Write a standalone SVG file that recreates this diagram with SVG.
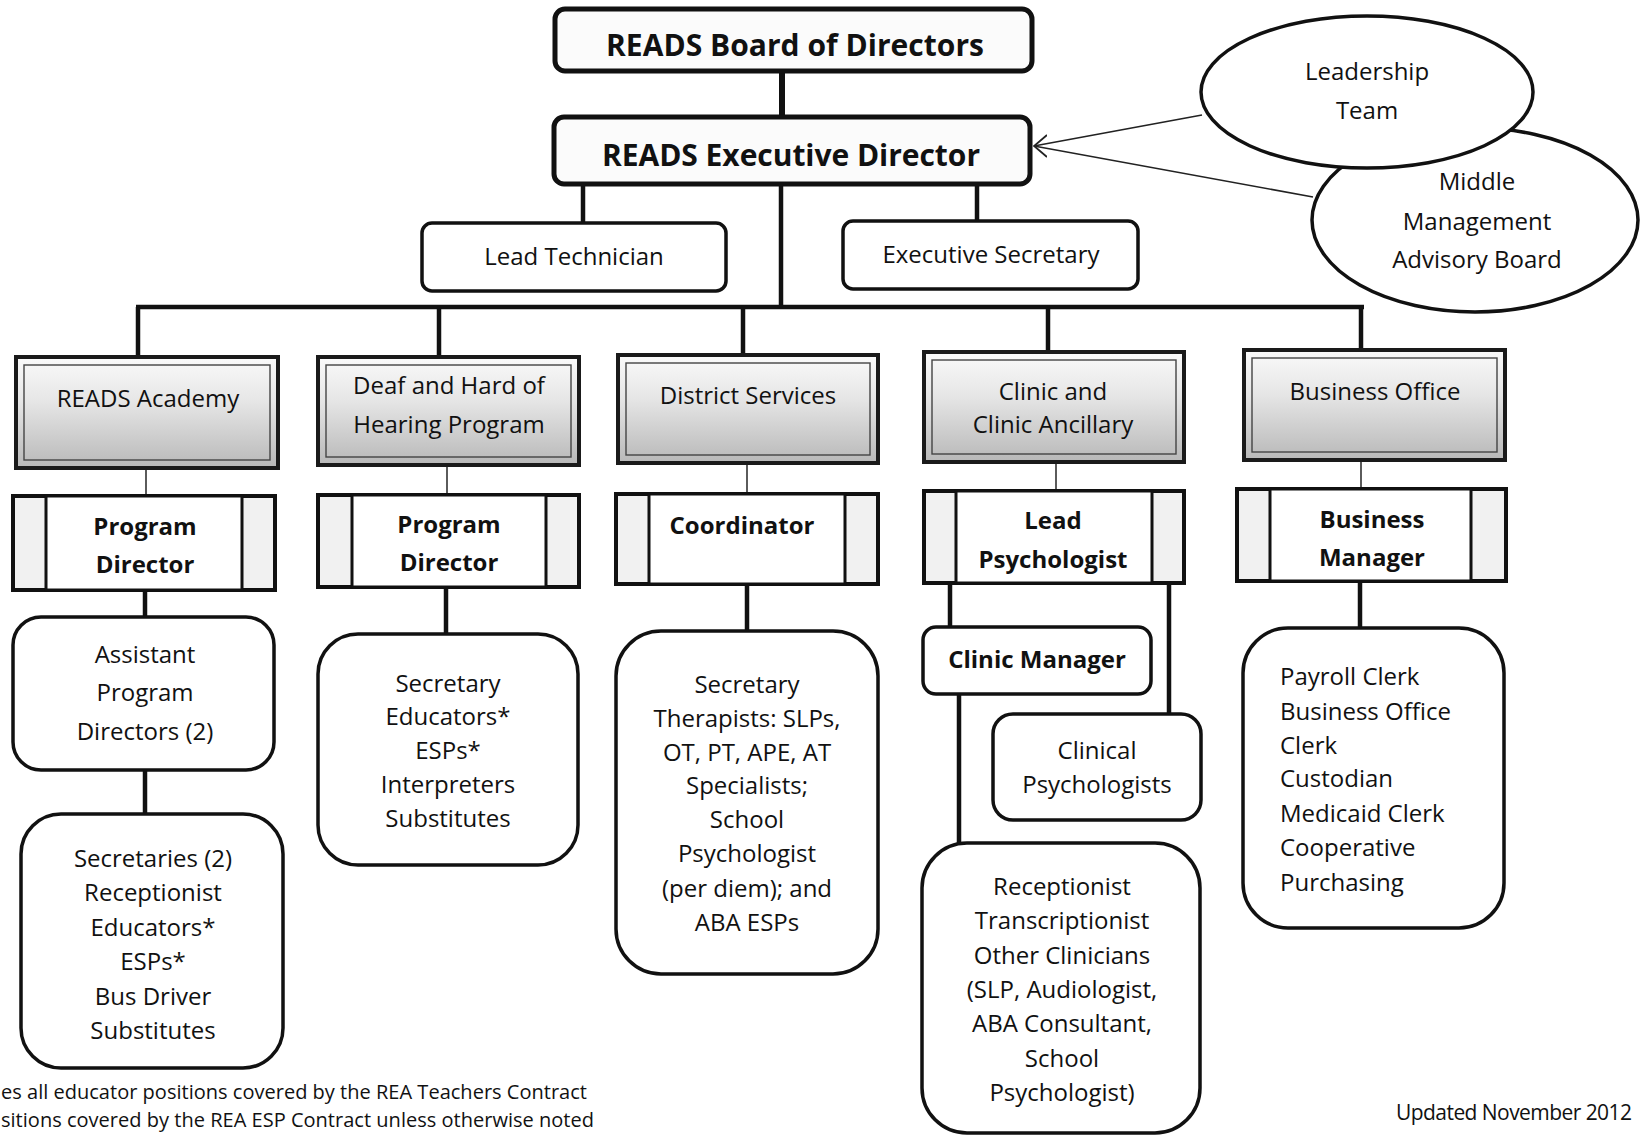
<svg xmlns="http://www.w3.org/2000/svg" width="1642" height="1135" viewBox="0 0 1642 1135">
<style>
.t{font-family:"Open Sans","Liberation Sans",sans-serif;font-size:24px;fill:#111;text-anchor:middle}
.b{font-weight:bold}
.l{text-anchor:start}
.rbox{fill:#fff;stroke:#111;stroke-width:3.5}
.top{fill:#fbfbfb;stroke:#111;stroke-width:5}
.dept{fill:url(#deptGrad);stroke:#1a1a1a;stroke-width:4}
.deptIn{fill:none;stroke:#444;stroke-width:1.4}
.dir{fill:#f1f1f1;stroke:#111;stroke-width:4}
.dirIn{fill:#fff;stroke:#111;stroke-width:3}
.ell{fill:#fff;stroke:#111;stroke-width:3.5}
.thick{stroke:#111;stroke-width:4.5;fill:none}
.thin{stroke:#333;stroke-width:1.6;fill:none}
.arr{stroke:#222;stroke-width:1.6;fill:none}
</style>
<defs>
<linearGradient id="deptGrad" x1="0" y1="0" x2="0" y2="1">
<stop offset="0" stop-color="#fafafa"/>
<stop offset="0.4" stop-color="#e6e6e6"/>
<stop offset="1" stop-color="#b8b8b8"/>
</linearGradient>
<marker id="ah" viewBox="0 0 14 26" refX="1" refY="13" markerWidth="14" markerHeight="26" markerUnits="userSpaceOnUse" orient="0">
<path d="M14,2 L1,13 L14,24" fill="none" stroke="#222" stroke-width="1.8"/>
</marker>
</defs>
<rect width="1642" height="1135" fill="#fff"/>

<g id="connectors">
<line class="thick" x1="782" y1="71" x2="782" y2="117" style="stroke-width:6"/>
<line class="thick" x1="583" y1="184" x2="583" y2="223"/>
<line class="thick" x1="781" y1="184" x2="781" y2="307"/>
<line class="thick" x1="977" y1="184" x2="977" y2="221"/>
<line class="thick" x1="136" y1="307" x2="1364" y2="307"/>
<line class="thick" x1="138" y1="307" x2="138" y2="357"/>
<line class="thick" x1="439" y1="307" x2="439" y2="357"/>
<line class="thick" x1="743" y1="307" x2="743" y2="355"/>
<line class="thick" x1="1048" y1="307" x2="1048" y2="352"/>
<line class="thick" x1="1361" y1="307" x2="1361" y2="350"/>
<line class="thin" x1="146" y1="468" x2="146" y2="496"/>
<line class="thin" x1="447" y1="465" x2="447" y2="495"/>
<line class="thin" x1="747" y1="463" x2="747" y2="494"/>
<line class="thin" x1="1056" y1="462" x2="1056" y2="491"/>
<line class="thin" x1="1361" y1="460" x2="1361" y2="489"/>
<line class="thick" x1="145" y1="590" x2="145" y2="617"/>
<line class="thick" x1="145" y1="770" x2="145" y2="814"/>
<line class="thick" x1="446" y1="587" x2="446" y2="634"/>
<line class="thick" x1="747" y1="584" x2="747" y2="631"/>
<line class="thick" x1="950" y1="583" x2="950" y2="627"/>
<line class="thick" x1="959" y1="694" x2="959" y2="843"/>
<line class="thick" x1="1169" y1="583" x2="1169" y2="714"/>
<line class="thick" x1="1360" y1="581" x2="1360" y2="628"/>
<line class="arr" x1="1202" y1="115" x2="1034" y2="146" marker-end="url(#ah)"/>
<line class="arr" x1="1313" y1="197" x2="1034" y2="146"/>
</g>

<g id="board">
<rect class="top" x="555" y="9" width="477" height="62" rx="10"/>
<text class="t b" x="795" y="56" style="font-size:30px" textLength="378">READS Board of Directors</text>
</g>
<g id="exec">
<rect class="top" x="554" y="117" width="476" height="67" rx="10"/>
<text class="t b" x="791" y="166" style="font-size:30px" textLength="378">READS Executive Director</text>
</g>
<g id="leadtech">
<rect class="rbox" x="422" y="223" width="304" height="68" rx="10"/>
<text class="t" x="574" y="265">Lead Technician</text>
</g>
<g id="execsec">
<rect class="rbox" x="843" y="221" width="295" height="68" rx="10"/>
<text class="t" x="991" y="263">Executive Secretary</text>
</g>
<g id="midmgmt">
<ellipse class="ell" cx="1475" cy="220" rx="163" ry="92"/>
<text class="t" x="1477" y="190">Middle</text>
<text class="t" x="1477" y="230">Management</text>
<text class="t" x="1477" y="268">Advisory Board</text>
</g>
<g id="leadership">
<ellipse class="ell" cx="1367" cy="92" rx="166" ry="76"/>
<text class="t" x="1367" y="80">Leadership</text>
<text class="t" x="1367" y="119">Team</text>
</g>

<g id="academy">
<rect class="dept" x="16" y="357" width="262" height="111"/>
<rect class="deptIn" x="24" y="365" width="246" height="95"/>
<text class="t" x="148" y="407">READS Academy</text>
</g>
<g id="deaf">
<rect class="dept" x="318" y="357" width="261" height="108"/>
<rect class="deptIn" x="326" y="365" width="245" height="92"/>
<text class="t" x="449" y="394">Deaf and Hard of</text>
<text class="t" x="449" y="433">Hearing Program</text>
</g>
<g id="district">
<rect class="dept" x="618" y="355" width="260" height="108"/>
<rect class="deptIn" x="626" y="363" width="244" height="92"/>
<text class="t" x="748" y="404">District Services</text>
</g>
<g id="clinic">
<rect class="dept" x="924" y="352" width="260" height="110"/>
<rect class="deptIn" x="932" y="360" width="244" height="94"/>
<text class="t" x="1053" y="400">Clinic and</text>
<text class="t" x="1053" y="433">Clinic Ancillary</text>
</g>
<g id="business">
<rect class="dept" x="1244" y="350" width="261" height="110"/>
<rect class="deptIn" x="1252" y="358" width="245" height="94"/>
<text class="t" x="1375" y="400">Business Office</text>
</g>

<g id="progdir1">
<rect class="dir" x="13" y="496" width="262" height="94"/>
<rect class="dirIn" x="46" y="496" width="196" height="94"/>
<text class="t b" x="145" y="535">Program</text>
<text class="t b" x="145" y="573">Director</text>
</g>
<g id="progdir2">
<rect class="dir" x="318" y="495" width="261" height="92"/>
<rect class="dirIn" x="352" y="495" width="194" height="92"/>
<text class="t b" x="449" y="533">Program</text>
<text class="t b" x="449" y="571">Director</text>
</g>
<g id="coordinator">
<rect class="dir" x="616" y="494" width="262" height="90"/>
<rect class="dirIn" x="649" y="494" width="196" height="90"/>
<text class="t b" x="742" y="534">Coordinator</text>
</g>
<g id="leadpsych">
<rect class="dir" x="924" y="491" width="260" height="92"/>
<rect class="dirIn" x="956" y="491" width="196" height="92"/>
<text class="t b" x="1053" y="529">Lead</text>
<text class="t b" x="1053" y="568">Psychologist</text>
</g>
<g id="busmgr">
<rect class="dir" x="1237" y="489" width="269" height="92"/>
<rect class="dirIn" x="1270" y="489" width="201" height="92"/>
<text class="t b" x="1372" y="528">Business</text>
<text class="t b" x="1372" y="566">Manager</text>
</g>

<g id="asstdirs">
<rect class="rbox" x="13" y="617" width="261" height="153" rx="28"/>
<text class="t" x="145" y="663">Assistant</text>
<text class="t" x="145" y="701">Program</text>
<text class="t" x="145" y="740">Directors (2)</text>
</g>
<g id="academystaff">
<rect class="rbox" x="21" y="814" width="262" height="254" rx="40"/>
<text class="t" x="153" y="867">Secretaries (2)</text>
<text class="t" x="153" y="901">Receptionist</text>
<text class="t" x="153" y="936">Educators*</text>
<text class="t" x="153" y="970">ESPs*</text>
<text class="t" x="153" y="1005">Bus Driver</text>
<text class="t" x="153" y="1039">Substitutes</text>
</g>
<g id="deafstaff">
<rect class="rbox" x="318" y="634" width="260" height="231" rx="40"/>
<text class="t" x="448" y="692">Secretary</text>
<text class="t" x="448" y="725">Educators*</text>
<text class="t" x="448" y="759">ESPs*</text>
<text class="t" x="448" y="793">Interpreters</text>
<text class="t" x="448" y="827">Substitutes</text>
</g>
<g id="districtstaff">
<rect class="rbox" x="616" y="631" width="262" height="343" rx="45"/>
<text class="t" x="747" y="693">Secretary</text>
<text class="t" x="747" y="727">Therapists: SLPs,</text>
<text class="t" x="747" y="761">OT, PT, APE, AT</text>
<text class="t" x="747" y="794">Specialists;</text>
<text class="t" x="747" y="828">School</text>
<text class="t" x="747" y="862">Psychologist</text>
<text class="t" x="747" y="897">(per diem); and</text>
<text class="t" x="747" y="931">ABA ESPs</text>
</g>
<g id="clinicmgr">
<rect class="rbox" x="923" y="627" width="228" height="67" rx="13"/>
<text class="t b" x="1037" y="668">Clinic Manager</text>
</g>
<g id="clinicalpsych">
<rect class="rbox" x="993" y="714" width="208" height="106" rx="20"/>
<text class="t" x="1097" y="759">Clinical</text>
<text class="t" x="1097" y="793">Psychologists</text>
</g>
<g id="clinicstaff">
<rect class="rbox" x="922" y="843" width="278" height="290" rx="45"/>
<text class="t" x="1062" y="895">Receptionist</text>
<text class="t" x="1062" y="929">Transcriptionist</text>
<text class="t" x="1062" y="964">Other Clinicians</text>
<text class="t" x="1062" y="998">(SLP, Audiologist,</text>
<text class="t" x="1062" y="1032">ABA Consultant,</text>
<text class="t" x="1062" y="1067">School</text>
<text class="t" x="1062" y="1101">Psychologist)</text>
</g>
<g id="businessstaff">
<rect class="rbox" x="1243" y="628" width="261" height="300" rx="45"/>
<text class="t l" x="1280" y="685">Payroll Clerk</text>
<text class="t l" x="1280" y="720">Business Office</text>
<text class="t l" x="1280" y="754">Clerk</text>
<text class="t l" x="1280" y="787">Custodian</text>
<text class="t l" x="1280" y="822">Medicaid Clerk</text>
<text class="t l" x="1280" y="856">Cooperative</text>
<text class="t l" x="1280" y="891">Purchasing</text>
</g>

<g id="notes">
<text class="t l" x="1" y="1099" style="font-size:20px" textLength="586">es all educator positions covered by the REA Teachers Contract</text>
<text class="t l" x="1" y="1127" style="font-size:20px" textLength="593">sitions covered by the REA ESP Contract unless otherwise noted</text>
<text class="t l" x="1396" y="1120" style="font-size:21px" textLength="236">Updated November 2012</text>
</g>
</svg>
